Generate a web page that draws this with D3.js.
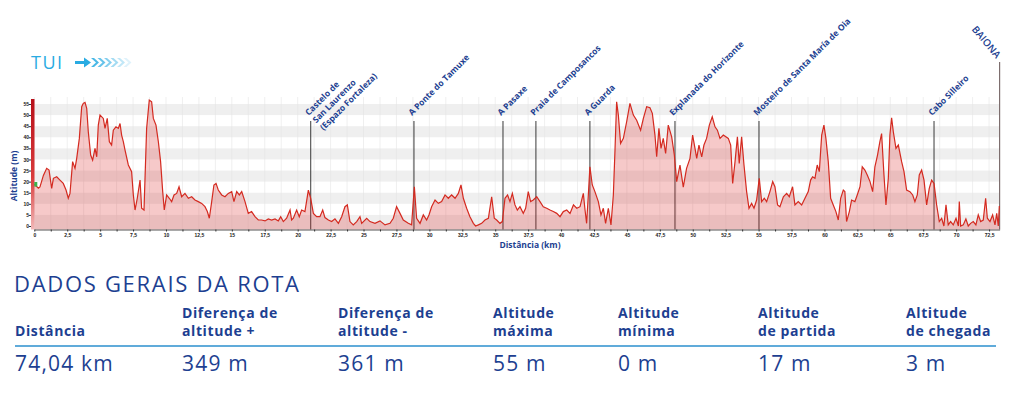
<!DOCTYPE html>
<html>
<head>
<meta charset="utf-8">
<script src="https://cdn.jsdelivr.net/npm/d3@7"></script>
<style>
body{margin:0;background:#fff;}
svg{display:block;font-family:"Open Sans",sans-serif;}
</style>
</head>
<body>
<svg id="chart" width="1014" height="393"></svg>
<script>
// profile: distance (km) and altitude (m)
const distKm = [0.00,0.31,0.43,0.69,0.94,1.12,1.32,1.45,1.70,1.95,2.20,2.41,2.58,2.71,2.91,3.09,3.22,3.42,3.60,3.72,3.85,3.98,4.10,4.28,4.43,4.61,4.74,4.86,4.99,5.24,5.37,5.54,5.70,5.87,6.00,6.20,6.38,6.51,6.63,6.76,6.89,7.14,7.39,7.52,7.65,7.82,8.03,8.15,8.33,8.53,8.73,8.91,9.04,9.24,9.42,9.59,9.75,9.87,10.05,10.25,10.43,10.61,10.81,10.99,11.19,11.44,11.70,11.95,12.20,12.45,12.71,12.96,13.14,13.29,13.47,13.64,13.80,13.97,14.23,14.48,14.73,14.99,15.16,15.37,15.57,15.75,16.00,16.25,16.50,16.76,17.01,17.26,17.52,17.77,18.02,18.28,18.53,18.71,18.91,19.16,19.42,19.54,19.67,19.92,20.12,20.30,20.55,20.81,20.99,21.19,21.44,21.69,21.90,22.07,22.33,22.58,22.83,23.09,23.34,23.59,23.77,23.97,24.22,24.48,24.73,
  24.86,25.24,25.49,25.87,26.25,26.63,27.01,27.26,27.51,27.77,28.02,28.40,28.65,28.86,29.03,29.29,29.54,29.79,29.97,30.17,30.43,30.68,30.93,31.19,31.44,31.69,31.95,32.20,32.40,32.58,32.83,33.08,33.34,33.51,33.72,33.97,34.22,34.48,34.73,34.93,35.11,35.36,35.54,35.74,35.94,36.12,36.30,36.50,36.68,36.88,37.13,37.31,37.51,37.69,37.89,38.15,38.40,38.65,38.91,39.16,39.41,39.67,39.92,40.17,40.43,40.68,40.94,41.19,41.44,41.69,41.82,41.94,42.07,42.19,42.37,42.57,42.83,43.03,43.21,43.38,43.59,43.79,43.97,44.10,44.22,44.35,44.52,44.73,44.98,45.23,45.49,45.74,46.04,46.25,46.50,46.75,46.93,47.13,47.26,47.43,47.59,47.76,47.94,48.14,48.40,48.60,48.78,49.03,49.28,
  49.53,49.79,49.99,50.17,50.30,50.47,50.68,50.85,51.05,51.26,51.48,51.69,51.87,52.07,52.32,52.70,52.88,53.03,53.21,53.39,53.53,53.71,53.89,54.09,54.27,54.47,54.65,54.85,55.05,55.23,55.43,55.61,55.86,56.07,56.24,56.44,56.62,56.88,57.13,57.33,57.58,57.76,58.01,58.27,58.52,58.77,58.95,59.10,59.28,59.45,59.61,59.79,59.96,60.11,60.29,60.47,60.67,60.87,61.05,61.23,61.43,61.55,61.68,61.89,62.06,62.31,62.49,62.70,62.87,63.07,63.25,63.46,63.66,63.83,64.03,64.21,64.34,64.52,64.67,64.85,64.97,65.10,65.23,65.43,65.61,65.86,66.04,66.24,66.49,66.70,66.87,67.05,67.20,67.38,67.56,67.76,67.96,68.14,68.32,68.52,68.72,68.90,69.07,69.23,69.40,69.58,69.78,69.99,70.17,70.24,70.34,70.54,70.74,70.92,71.10,71.30,71.50,71.68,71.86,72.06,72.24,72.37,72.57,72.77,72.95,73.08,73.20,73.28];
const altM = [18.8,17.0,17.6,22.8,26.0,25.2,17.0,21.5,22.2,20.7,19.2,16.2,12.5,14.7,29.0,26.0,30.5,39.5,53.8,55.3,55.7,53.0,42.5,32.0,29.7,35.0,31.2,45.5,50.0,48.5,44.0,48.5,38.0,36.5,43.2,44.7,44.0,46.2,41.0,38.0,34.2,27.5,24.5,14.0,7.2,12.5,20.7,8.0,7.2,44.0,56.8,56.0,48.5,45.5,38.0,29.0,15.5,7.2,14.0,12.5,11.0,14.0,14.7,17.7,13.2,14.7,12.5,13.2,11.7,11.0,10.2,8.7,6.5,3.5,11.0,18.5,19.2,16.2,14.0,13.2,14.7,15.5,11.0,15.5,14.0,15.5,11.0,5.7,6.5,4.2,2.7,2.7,2.3,3.2,2.7,3.2,2.3,4.2,2.0,3.5,7.2,2.7,3.5,7.2,4.2,7.2,6.5,16.2,12.5,5.7,4.2,4.2,7.2,3.8,2.7,2.0,3.2,1.2,4.2,8.7,9.5,2.0,0.5,2.0,4.2,
  1.2,3.5,2.0,1.2,2.3,0.5,1.2,3.5,8.7,5.7,2.7,1.2,0.5,17.7,3.5,1.2,5.0,2.7,5.0,8.7,11.7,10.2,11.0,14.0,12.5,14.0,12.5,14.7,18.5,12.5,8.0,4.2,1.2,0.0,0.5,1.2,2.7,3.5,13.2,3.5,2.7,1.2,2.0,12.5,14.0,11.0,14.7,9.5,7.2,8.7,5.7,8.0,15.5,11.0,11.7,13.2,11.0,8.7,8.0,7.2,6.5,5.7,4.2,6.5,7.2,5.7,9.5,8.0,8.7,14.7,7.2,1.2,14.0,26.7,18.5,15.5,11.0,5.0,8.0,1.2,8.0,0.5,14.0,35.0,56.0,50.0,37.2,39.5,47.0,55.3,50.0,47.7,43.2,48.5,53.8,53.3,50.8,41.0,31.2,44.0,35.0,39.5,32.7,45.5,40.2,32.0,20.0,27.5,17.5,
  26.0,30.5,41.0,35.0,30.5,36.5,31.2,36.5,39.5,45.5,49.2,44.7,43.2,39.5,41.0,39.5,36.5,19.2,29.0,40.2,28.2,40.2,27.5,15.5,8.0,10.2,8.0,11.7,21.5,11.0,12.5,11.0,15.5,20.0,17.7,9.5,8.7,13.2,14.7,13.2,17.7,9.5,11.0,9.5,12.5,15.5,20.7,22.2,21.5,27.5,24.5,41.0,45.5,39.5,29.0,12.5,9.5,6.5,2.7,12.5,16.2,15.5,2.0,6.5,11.7,11.0,14.0,17.7,26.7,25.2,23.0,20.0,15.5,26.7,32.0,38.0,41.7,23.0,9.5,21.5,41.0,48.8,42.5,35.0,36.5,29.0,24.5,16.2,15.5,14.0,11.0,14.0,23.0,25.2,20.7,9.5,17.0,20.7,19.2,9.5,2.0,3.5,0.0,9.5,0.5,2.0,0.5,3.5,0.0,11.0,0.0,0.5,3.2,0.0,1.2,2.0,0.5,5.0,2.0,2.7,12.5,3.5,2.0,5.0,0.5,5.7,0.0,9.0];

const placeNames = [["Castelo de","San Laurenzo","(Espazo Fortaleza)"],["A Ponte do Tamuxe"],["A Pasaxe"],["Praia de Camposancos"],["A Guarda"],["Explanada do Horizonte"],["Mosteiro de Santa María de Oia"],["Cabo Silleiro"]];
const placeKm = [20.99, 28.83, 35.59, 38.09, 42.19, 48.65, 55.03, 68.32];
const startName = "TUI";
const endName = "BAIONA";
const endKm = 73.3;

const xTicks = d3.range(0, 73, 1.25);
const yTicks = d3.range(0, 56, 5);

const tableTitle = "DADOS GERAIS DA ROTA";
const statHeads = [["","Distância"],["Diferença de","altitude +"],["Diferença de","altitude -"],["Altitude","máxima"],["Altitude","mínima"],["Altitude","de partida"],["Altitude","de chegada"]];
const statValues = ["74,04 km","349 m","361 m","55 m","0 m","17 m","3 m"];

const blue = "#1d3f91", light = "#29abe2";
const svg = d3.select("#chart");

const x = d3.scaleLinear().domain([0, endKm]).range([34.3, 999.6]);
const y = d3.scaleLinear().domain([0, 55]).range([226, 104]);
const plotTop = 97, plotBottom = 229.5;
const profile = distKm.map((d, i) => ({km: d, alt: altM[i]}));

// gray bands every other 5 m
svg.append("g").selectAll("rect")
  .data(d3.range(0, 55, 10))
  .enter().append("rect")
    .attr("x", x(0))
    .attr("width", x(endKm) - x(0))
    .attr("y", d => y(d + 5))
    .attr("height", d => (d === 0 ? plotBottom : y(d)) - y(d + 5))
    .attr("fill", "#efefef");

// faint vertical grid
svg.append("g").selectAll("line")
  .data(xTicks)
  .enter().append("line")
    .attr("x1", d => x(d)).attr("x2", d => x(d))
    .attr("y1", plotTop).attr("y2", plotBottom)
    .attr("stroke", "#e4e4e4").attr("stroke-width", 0.6);

// place markers, under the profile
svg.append("g").selectAll("line")
  .data(placeKm)
  .enter().append("line")
    .attr("x1", d => x(d)).attr("x2", d => x(d))
    .attr("y1", 121).attr("y2", plotBottom)
    .attr("stroke", "#222").attr("stroke-width", 0.9);

svg.append("line")
  .attr("x1", x(endKm)).attr("x2", x(endKm))
  .attr("y1", 62).attr("y2", plotBottom)
  .attr("stroke", "#7d6e6e").attr("stroke-width", 1.2);

const area = d3.area()
  .x(d => x(d.km))
  .y0(plotBottom)
  .y1(d => y(d.alt));
const line = d3.line()
  .x(d => x(d.km))
  .y(d => y(d.alt));

svg.append("path")
  .datum(profile)
  .attr("d", area)
  .attr("fill", "rgb(220,40,40)")
  .attr("fill-opacity", 0.25);
svg.append("path")
  .datum(profile)
  .attr("d", line)
  .attr("fill", "none")
  .attr("stroke", "#d42a20")
  .attr("stroke-width", 1.2);

// altitude color bar on the left
const grad = svg.append("defs").append("linearGradient")
  .attr("id", "altbar").attr("x1", 0).attr("x2", 0).attr("y1", 0).attr("y2", 1);
grad.append("stop").attr("offset", "0%").attr("stop-color", "#b8101a");
grad.append("stop").attr("offset", "60%").attr("stop-color", "#d93b3b");
grad.append("stop").attr("offset", "100%").attr("stop-color", "#f2b8b8");
svg.append("rect")
  .attr("x", 31).attr("y", 99).attr("width", 3.5).attr("height", plotBottom - 99)
  .attr("fill", "url(#altbar)");

// start marker
svg.append("rect")
  .attr("x", x(profile[0].km)).attr("y", y(profile[0].alt) - 2.3)
  .attr("width", 3).attr("height", 4.6)
  .attr("fill", "#3bb34a");

const fmt = d3.formatLocale({decimal: ",", thousands: ".", grouping: [3], currency: ["", ""]}).format("~g");
const xAxis = d3.axisBottom(x)
  .tickValues(xTicks)
  .tickSize(2).tickSizeOuter(0)
  .tickFormat((d, i) => i % 2 ? "" : fmt(d));
const gx = svg.append("g")
  .attr("transform", "translate(0," + plotBottom + ")")
  .call(xAxis);
gx.select(".domain").attr("stroke", "#555").attr("stroke-width", 1);
gx.selectAll(".tick line").attr("stroke", "#333");
gx.selectAll("text").attr("font-size", 5).attr("font-weight", 700).attr("fill", "#222").attr("dy", "0.5em");

const yAxis = d3.axisLeft(y).tickValues(yTicks).tickSize(2);
const gy = svg.append("g")
  .attr("transform", "translate(31,0)")
  .call(yAxis);
gy.select(".domain").remove();
gy.selectAll(".tick line").attr("stroke", "#333");
gy.selectAll("text").attr("font-size", 5).attr("font-weight", 700).attr("fill", "#222").attr("x", -2);

svg.append("text")
  .attr("transform", "translate(17,176) rotate(-90)")
  .attr("text-anchor", "middle")
  .attr("font-size", 8.5).attr("font-weight", 700).attr("fill", blue)
  .text("Altitude (m)");
svg.append("text")
  .attr("x", 530).attr("y", 248)
  .attr("text-anchor", "middle")
  .attr("font-size", 8.5).attr("font-weight", 700).attr("fill", blue)
  .text("Distância (km)");

// place labels
const labels = svg.append("g").selectAll("text")
  .data(placeNames)
  .enter().append("text")
    .attr("transform", (d, i) => "translate(" + (x(placeKm[i]) - 2) + ",116) rotate(-45)")
    .attr("font-size", 8.5).attr("font-weight", 700).attr("fill", blue);
labels.selectAll("tspan")
  .data(d => d)
  .enter().append("tspan")
    .attr("x", 0)
    .attr("dy", (d, i) => i ? 10.5 : 0)
    .text(d => d);

svg.append("text")
  .attr("transform", "translate(996,59) rotate(50)")
  .attr("text-anchor", "end")
  .attr("font-size", 10).attr("font-weight", 600).attr("fill", blue)
  .text(endName);

// start header
svg.append("text")
  .attr("x", 31).attr("y", 69)
  .attr("font-size", 18).attr("letter-spacing", 1.5).attr("fill", light)
  .text(startName);
const arrow = svg.append("g").attr("fill", light);
arrow.append("path").attr("d", "M75,61 h9 v-3.5 l7,5 l-7,5 v-3.5 h-9 z");
d3.range(6).forEach(i => {
  const cx = 91 + i * 6.5;
  arrow.append("path")
    .attr("d", "M" + cx + ",58 l3,0 l5,4.5 l-5,4.5 l-3,0 l5,-4.5 z")
    .attr("fill-opacity", 0.85 - i * 0.14);
});

// route summary table
svg.append("text")
  .attr("x", 14).attr("y", 292)
  .attr("font-size", 22).attr("letter-spacing", 1.7).attr("fill", blue)
  .text(tableTitle);

const colX = [15, 182, 338, 493, 618, 758, 906];
const cols = svg.append("g").selectAll("g")
  .data(statHeads)
  .enter().append("g")
    .attr("transform", (d, i) => "translate(" + colX[i] + ",0)");
cols.append("text")
  .attr("y", 318)
  .attr("font-size", 14).attr("font-weight", 700).attr("letter-spacing", 0.6).attr("fill", blue)
  .text(d => d[0]);
cols.append("text")
  .attr("y", 336)
  .attr("font-size", 14).attr("font-weight", 700).attr("letter-spacing", 0.6).attr("fill", blue)
  .text(d => d[1]);
cols.append("text")
  .attr("y", 371)
  .attr("font-size", 21).attr("letter-spacing", 1.2).attr("fill", blue)
  .text((d, i) => statValues[i]);

svg.append("line")
  .attr("x1", 15).attr("x2", 996)
  .attr("y1", 346).attr("y2", 346)
  .attr("stroke", "#2b8fce").attr("stroke-width", 1.5);
</script>
</body>
</html>
